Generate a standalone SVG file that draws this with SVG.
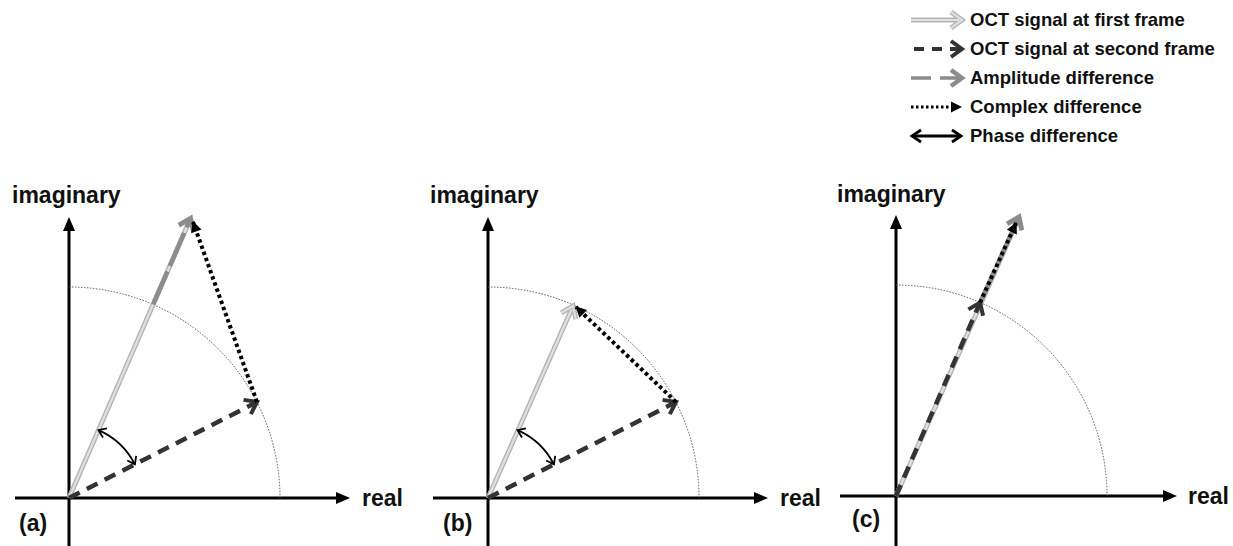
<svg xmlns="http://www.w3.org/2000/svg" width="1233" height="546" viewBox="0 0 1233 546">
<style>
text{font-family:"Liberation Sans",Arial,sans-serif;font-weight:bold;fill:#111}
.lbl{font-size:23px}
.leg{font-size:18.5px}
.axis{stroke:#000;stroke-width:3;fill:none}
.circ{stroke:#555;stroke-width:1;stroke-dasharray:1.5 1.5;fill:none}
.l1o{stroke:#b4b4b4;stroke-width:5;fill:none}
.l1i{stroke:#e0e0e0;stroke-width:2.2;fill:none}
.l2{stroke:#333;stroke-width:4.5;stroke-dasharray:12 8;fill:none}
.amp{stroke:#8c8c8c;stroke-width:4.5;stroke-dasharray:36 6;fill:none}
.cx{stroke:#000;stroke-width:4;stroke-dasharray:3.5 3;fill:none}
.ph{stroke:#000;stroke-width:1.8;fill:none}
</style>
<defs>
<marker id="mAxis" markerUnits="userSpaceOnUse" markerWidth="16" markerHeight="14" refX="6" refY="7" orient="auto" overflow="visible">
<path d="M0,1 L14,7 L0,13 z" fill="#000"/>
</marker>
<marker id="mLight" markerUnits="userSpaceOnUse" markerWidth="20" markerHeight="20" refX="14" refY="10" orient="auto" overflow="visible">
<path d="M3,2 L14,10 L3,18" fill="none" stroke="#b4b4b4" stroke-width="5"/>
<path d="M3,2 L14,10 L3,18" fill="none" stroke="#e0e0e0" stroke-width="2.2"/>
</marker>
<marker id="mDark" markerUnits="userSpaceOnUse" markerWidth="20" markerHeight="20" refX="14" refY="10" orient="auto" overflow="visible">
<path d="M3,2 L14,10 L3,18" fill="none" stroke="#333" stroke-width="4"/>
</marker>
<marker id="mGray" markerUnits="userSpaceOnUse" markerWidth="20" markerHeight="20" refX="14" refY="10" orient="auto" overflow="visible">
<path d="M3,2 L14,10 L3,18" fill="none" stroke="#8c8c8c" stroke-width="4.5"/>
</marker>
<marker id="mTri" markerUnits="userSpaceOnUse" markerWidth="12" markerHeight="12" refX="10" refY="6" orient="auto" overflow="visible">
<path d="M0,0.5 L11,6 L0,11.5 z" fill="#000"/>
</marker>
<marker id="mThin" markerUnits="userSpaceOnUse" markerWidth="12" markerHeight="12" refX="9" refY="6" orient="auto-start-reverse" overflow="visible">
<path d="M2,1 L9,6 L2,11" fill="none" stroke="#000" stroke-width="1.8"/>
</marker>
<marker id="mPh" markerUnits="userSpaceOnUse" markerWidth="16" markerHeight="16" refX="12" refY="8" orient="auto-start-reverse" overflow="visible">
<path d="M3,2 L12,8 L3,14" fill="none" stroke="#000" stroke-width="2.8"/>
</marker>
</defs>

<g id="legend">
<line class="l1o" x1="911" y1="20" x2="962" y2="20" marker-end="url(#mLight)"/>
<line class="l1i" x1="911" y1="20" x2="959" y2="20"/>
<text class="leg" x="970" y="26">OCT signal at first frame</text>
<line class="l2" x1="914" y1="49" x2="962" y2="49" style="stroke-dasharray:10 8;stroke-width:4" marker-end="url(#mDark)"/>
<text class="leg" x="970" y="55">OCT signal at second frame</text>
<line class="amp" x1="911" y1="78" x2="962" y2="78" style="stroke-dasharray:20 9;stroke-width:3.5" marker-end="url(#mGray)"/>
<text class="leg" x="970" y="84">Amplitude difference</text>
<line class="cx" x1="911" y1="107" x2="961" y2="107" style="stroke-width:3;stroke-dasharray:2.5 2.5" marker-end="url(#mTri)"/>
<text class="leg" x="970" y="113">Complex difference</text>
<line class="ph" x1="912" y1="136" x2="961" y2="136" style="stroke-width:2.8" marker-start="url(#mPh)" marker-end="url(#mPh)"/>
<text class="leg" x="970" y="142">Phase difference</text>
</g>

<g id="panel-a">
<line class="axis" x1="69" y1="546" x2="69" y2="225" marker-end="url(#mAxis)"/>
<line class="axis" x1="15" y1="498" x2="342" y2="498" marker-end="url(#mAxis)"/>
<text class="lbl" x="12" y="203">imaginary</text>
<text class="lbl" x="362" y="506">real</text>
<text class="lbl" x="19" y="531">(a)</text>
<path class="circ" d="M69,287 A211,211 0 0 1 280,498"/>
</g>
<g id="panel-b">
<line class="axis" x1="488" y1="546" x2="488" y2="225" marker-end="url(#mAxis)"/>
<line class="axis" x1="433" y1="498" x2="760" y2="498" marker-end="url(#mAxis)"/>
<text class="lbl" x="430" y="203">imaginary</text>
<text class="lbl" x="780" y="506">real</text>
<text class="lbl" x="443" y="531">(b)</text>
<path class="circ" d="M488,287 A211,211 0 0 1 699,498"/>
</g>
<g id="panel-c">
<line class="axis" x1="896" y1="546" x2="896" y2="223" marker-end="url(#mAxis)"/>
<line class="axis" x1="840" y1="496" x2="1169" y2="496" marker-end="url(#mAxis)"/>
<text class="lbl" x="837" y="202">imaginary</text>
<text class="lbl" x="1188" y="504">real</text>
<text class="lbl" x="852" y="527">(c)</text>
<path class="circ" d="M896,285 A211,211 0 0 1 1107,496"/>
</g>

<g id="connectors">
<!-- panel a -->
<line class="l1o" x1="69" y1="498" x2="190.6" y2="218.3" marker-end="url(#mLight)"/>
<line class="l1i" x1="69" y1="498" x2="189" y2="222"/>
<line class="amp" x1="153.1" y1="304.5" x2="190.6" y2="218.3" marker-end="url(#mGray)"/>
<line class="l2" x1="69" y1="498" x2="257" y2="402" marker-end="url(#mDark)"/>
<line class="cx" x1="257" y1="402" x2="193" y2="222" marker-end="url(#mTri)"/>
<path class="ph" d="M98.5,430.1 A74,74 0 0 1 134.9,464.4" marker-start="url(#mThin)" marker-end="url(#mThin)"/>
<!-- panel b -->
<line class="l1o" x1="488" y1="498" x2="573" y2="306" marker-end="url(#mLight)"/>
<line class="l1i" x1="488" y1="498" x2="571.5" y2="309.5"/>
<line class="l2" x1="488" y1="498" x2="676" y2="402" marker-end="url(#mDark)"/>
<line class="cx" x1="676" y1="402" x2="576" y2="307" marker-end="url(#mTri)"/>
<path class="ph" d="M517.5,430.1 A74,74 0 0 1 553.9,464.4" marker-start="url(#mThin)" marker-end="url(#mThin)"/>
<!-- panel c -->
<line class="l1o" x1="896" y1="496" x2="1019" y2="217" marker-end="url(#mLight)"/>
<line class="l1i" x1="896" y1="496" x2="1017.5" y2="220.5"/>
<line class="amp" x1="980.1" y1="302.5" x2="1019" y2="217" marker-end="url(#mGray)"/>
<line class="l2" x1="896" y1="496" x2="980.1" y2="302.5" marker-end="url(#mDark)"/>
<line class="cx" x1="980.1" y1="302.5" x2="1016" y2="223" marker-end="url(#mTri)"/>
</g>
</svg>
